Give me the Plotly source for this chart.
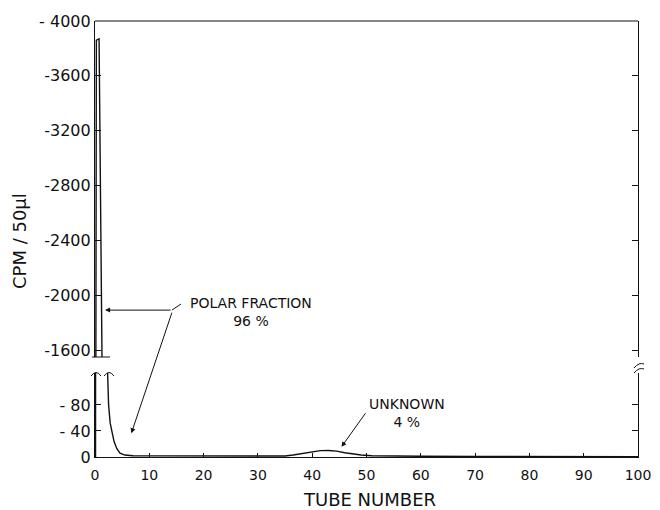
import plotly.graph_objects as go

# ---- data ----
tube_no = [0.1, 0.25, 0.75, 1.3, 2.3, 2.5, 2.8, 3.1, 3.5, 4.0, 4.6, 5.5, 7, 10, 20, 30,
           35, 36.5, 38, 40, 41.5, 43, 44.5, 46, 47.5, 49, 51, 55, 60, 70, 80, 90, 100]
cpm = [0, 3860, 3870, 1500, 135, 80, 52, 38, 24, 13, 6, 3, 2, 1.8, 1.5, 1.2,
       1.5, 3, 5, 8, 9.8, 10, 9, 6.5, 4.5, 3, 2, 1.5, 1.2, 1, 0.8, 0.5, 0.3]

x_ticks = [0, 10, 20, 30, 40, 50, 60, 70, 80, 90, 100]
upper_ticks = [4000, 3600, 3200, 2800, 2400, 2000, 1600]
upper_ticktext = ["- 4000", "-3600", "-3200", "-2800", "-2400", "-2000", "-1600"]
lower_ticks = [0, 40, 80]
lower_ticktext = ["0", "- 40", "- 80"]

# page has an 8px body margin; shift the figure so the plot lands where the reference has it
OFF = 8
W, H = 652, 510 - OFF
PLOT_L, PLOT_R, PLOT_T, PLOT_B = 95, 638, 21, 457   # target pixels in the window
L = PLOT_L - OFF
T = PLOT_T - OFF
PW = PLOT_R - PLOT_L
PH = PLOT_B - PLOT_T
R = W - L - PW
B = H - T - PH


def px(xp):
    return (xp - PLOT_L) / PW


def py(yp):
    return (PLOT_B - yp) / PH


upper_dom = [py(357), 1.0]
lower_dom = [0.0, py(373)]

FONT = "DejaVu Sans"
INK = "#111111"

fig = go.Figure()
fig.add_trace(go.Scatter(x=tube_no, y=cpm, mode="lines", xaxis="x", yaxis="y",
                         line=dict(color=INK, width=1.4), showlegend=False,
                         hoverinfo="skip"))
fig.add_trace(go.Scatter(x=tube_no, y=cpm, mode="lines", xaxis="x", yaxis="y2",
                         line=dict(color=INK, width=1.4), showlegend=False,
                         hoverinfo="skip"))

axis_common = dict(showgrid=False, zeroline=False, showline=True, linecolor=INK,
                   linewidth=1.2, ticks="inside", tickcolor=INK, tickwidth=1.1,
                   automargin=False)
yfont = dict(family=FONT, size=16, color=INK)

fig.update_layout(
    template="none",
    width=W, height=H, autosize=False,
    margin=dict(l=L, r=R, t=T, b=B, pad=0),
    paper_bgcolor="white", plot_bgcolor="white",
    xaxis=dict(range=[0, 100], domain=[0, 1], anchor="y2", tickvals=x_ticks,
               ticklen=4, ticklabelstandoff=5, ticklabeloverflow="allow",
               tickfont=dict(family=FONT, size=14, color=INK), **axis_common),
    yaxis=dict(domain=upper_dom, range=[1549, 4000], anchor="x", tickvals=upper_ticks,
               ticktext=upper_ticktext, ticklen=6, mirror="ticks", tickfont=yfont,
               **axis_common),
    yaxis2=dict(domain=lower_dom, range=[0, 129], anchor="x", tickvals=lower_ticks,
                ticktext=lower_ticktext, ticklen=6, mirror="ticks", tickfont=yfont,
                **axis_common),
)

shapes = []
# top frame line
shapes.append(dict(type="line", xref="paper", yref="paper", x0=0, x1=1, y0=1, y1=1,
                   line=dict(color=INK, width=1.2)))
# axis break marks
shapes.append(dict(type="line", xref="paper", yref="paper", x0=px(92), x1=px(110),
                   y0=py(357), y1=py(357), line=dict(color=INK, width=1)))
for cx in (96, 109):
    shapes.append(dict(type="path", xref="paper", yref="paper",
                       path=f"M {px(cx-5)} {py(376)} Q {px(cx)} {py(369)} {px(cx+5)} {py(376)}",
                       line=dict(color=INK, width=1)))
for yy in (366, 371):
    shapes.append(dict(type="path", xref="paper", yref="paper",
                       path=f"M {px(PLOT_R-4)} {py(yy+2)} Q {px(PLOT_R+1)} {py(yy-4)} {px(PLOT_R+6)} {py(yy-2)}",
                       line=dict(color=INK, width=1)))
# callout connector from the arrows' common tail to the POLAR FRACTION label
shapes.append(dict(type="line", xref="paper", yref="paper", x0=px(172), x1=px(181),
                   y0=py(310), y1=py(304), line=dict(color=INK, width=1)))
fig.update_layout(shapes=shapes)


def label(text, xp, yp, size, **kw):
    d = dict(text=text, xref="paper", yref="paper", x=px(xp), y=py(yp),
             xanchor="center", yanchor="middle", showarrow=False,
             font=dict(family=FONT, size=size, color=INK))
    d.update(kw)
    return d


def arrow(x, y, yref, ax, ay):
    return dict(text="", x=x, y=y, xref="x", yref=yref, ax=ax, ay=ay, showarrow=True,
                arrowhead=2, arrowsize=1, arrowwidth=1, arrowcolor=INK, standoff=0)


annotations = [
    label("POLAR FRACTION<br>96 %", 251, 312, 14),
    label("UNKNOWN<br>4 %", 407, 413, 14),
    arrow(1.85, 1891, "y", 67, 0),
    arrow(6.7, 36.6, "y2", 41, -122),
    arrow(45.4, 15.7, "y2", 25, -35),
    label("CPM / 50\u03bcl", 19, 241, 18, textangle=-90),
    label("TUBE NUMBER", 369, 499, 18),
]
fig.update_layout(annotations=annotations)

fig.write_html("out.html")
